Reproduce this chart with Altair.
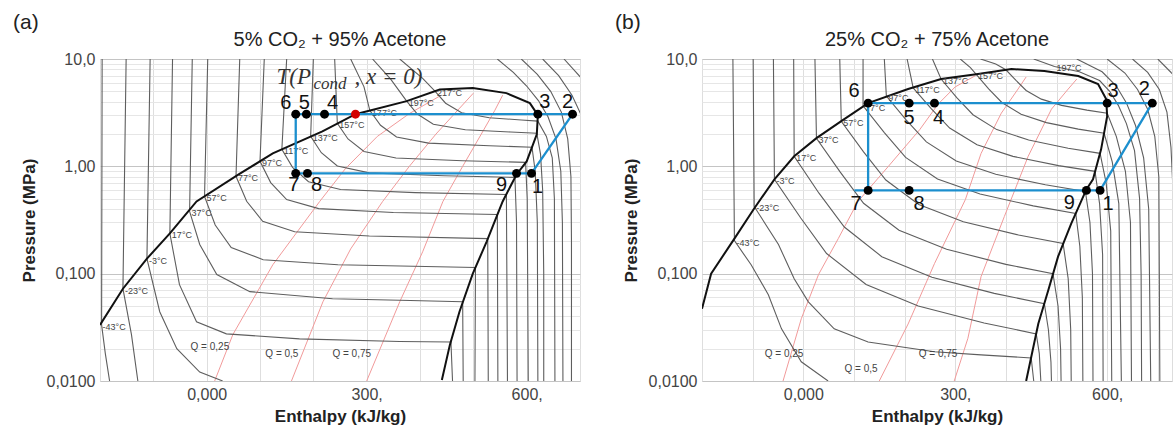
import altair as alt
import pandas as pd

FONT = "Liberation Sans"

# ---------------- shared grid / ticks ----------------
X_GRID = [-200, -100, 0, 100, 200, 300, 400, 500, 600, 700]
Y_GRID = [0.01, 0.02, 0.03, 0.04, 0.05, 0.06, 0.07, 0.08, 0.09,
          0.1, 0.2, 0.3, 0.4, 0.5, 0.6, 0.7, 0.8, 0.9,
          1, 2, 3, 4, 5, 6, 7, 8, 9, 10]

# ---------------- panel (a): 5% CO2 ----------------
A_TITLE = "5% CO₂ + 95% Acetone"
A_DOME_H = [-200, -157, -112, -69, -19, 60, 124, 217, 279, 375, 437, 499, 562, 606,
            621, 619, 600, 581, 555, 525, 499, 474, 456, 441]
A_DOME_P = [0.0333, 0.0724, 0.138, 0.237, 0.471, 0.84, 1.32, 2.12, 3.06, 4.05, 5.2, 5.36,
            4.81, 3.88, 3.0, 1.99, 1.11, 0.84, 0.471, 0.199, 0.1, 0.0442, 0.0217, 0.0102]

A_ISO_T = [-43, -23, -3, 17, 37, 57, 77, 97, 117, 137, 157, 177, 197, 217, 237, 257, 277, 297]
A_ISO_H = [
    [-196, -197, -190, -182],
    [-151, -157, -141, -129],
    [-106, -112, -88, -56, -13, 30],
    [-64, -69, -51, -19, 37, 174, 362, 458, 461],
    [-27, -32, -13, 19, 81, 236, 362, 480, 481],
    [2, -4, 16, 46, 106, 246, 504, 503],
    [62, 55, 75, 105, 165, 305, 527, 528],
    [108, 100, 120, 150, 210, 350, 545, 546],
    [150, 141, 161, 191, 251, 391, 562, 564],
    [200, 195, 215, 245, 305, 445, 578, 581, 582],
    [240, 245, 265, 295, 355, 480, 598, 601, 603],
    [270, 295, 306, 326, 356, 416, 530, 610, 616, 620, 621],
    [311, 345, 375, 395, 425, 485, 570, 619, 626, 630, 632, 632],
    [362, 405, 428, 448, 478, 530, 590, 621, 637, 648, 652, 653],
    [545, 575, 600, 622, 640, 655, 664, 667, 668],
    [590, 620, 645, 665, 677, 683, 684, 684],
    [630, 660, 685, 705],
    [670, 692, 710],
]
A_ISO_P = [
    [10, 0.0333, 0.018, 0.01],
    [10, 0.0724, 0.027, 0.01],
    [10, 0.138, 0.0442, 0.02, 0.0121, 0.01],
    [10, 0.237, 0.079, 0.0356, 0.0275, 0.0247, 0.0233, 0.0231, 0.01],
    [10, 0.38, 0.187, 0.098, 0.068, 0.0583, 0.0565, 0.0547, 0.01],
    [10, 0.525, 0.284, 0.175, 0.135, 0.121, 0.114, 0.01],
    [10, 0.807, 0.473, 0.308, 0.246, 0.224, 0.212, 0.01],
    [10, 1.114, 0.706, 0.49, 0.404, 0.372, 0.356, 0.01],
    [10, 1.442, 0.979, 0.718, 0.608, 0.569, 0.547, 0.01],
    [10, 1.905, 1.340, 1.009, 0.869, 0.817, 0.789, 0.3, 0.01],
    [10, 2.512, 1.799, 1.377, 1.194, 1.127, 1.089, 0.5, 0.01],
    [10, 5.5, 3.311, 2.415, 1.879, 1.644, 1.556, 1.507, 0.9, 0.3, 0.01],
    [10, 6.5, 4.046, 3.069, 2.466, 2.193, 2.089, 2.032, 1.3, 0.6, 0.1, 0.01],
    [10, 6.6, 5.012, 3.873, 3.155, 2.831, 2.704, 2.636, 1.9, 1.2, 0.5, 0.01],
    [10, 7.5, 5.6, 4.1, 2.9, 1.8, 0.9, 0.3, 0.01],
    [10, 7.2, 5.0, 3.2, 1.8, 0.8, 0.2, 0.01],
    [10, 7.0, 4.6, 2.8],
    [10, 7.6, 6.0],
]
A_LBL_T = [-43, -23, -3, 17, 37, 57, 77, 97, 117, 137, 157, 177, 197, 217]
A_LBL_H = [-199, -157, -112, -69, -32, -4, 55, 100, 141, 195, 245, 306, 375, 428]
A_LBL_P = [0.0333, 0.0724, 0.138, 0.237, 0.38, 0.525, 0.807, 1.114, 1.442, 1.905, 2.512,
           3.311, 4.046, 5.012]

A_Q_NAME = ["0,25", "0,5", "0,75"]
A_Q_H = [[15, 49, 124, 212, 260, 320, 380, 440],
         [159, 218, 270, 330, 380, 430, 470, 500],
         [300, 362, 405, 443, 480, 515, 540, 555]]
A_Q_P = [[0.01, 0.027, 0.121, 0.471, 0.95, 1.9, 3.1, 4.6],
         [0.01, 0.0547, 0.17, 0.471, 1.0, 2.0, 3.3, 4.8],
         [0.01, 0.0547, 0.16, 0.471, 1.0, 2.0, 3.3, 4.6]]
A_QLBL_H = [6, 141, 272]
A_QLBL_P = [0.0209, 0.0179, 0.0179]

A_PT = ["1", "2", "3", "4", "5", "6", "7", "8", "9"]
A_PT_H = [609, 686, 621, 221, 187, 167, 167, 189, 581]
A_PT_P = [0.86, 3.06, 3.06, 3.06, 3.06, 3.06, 0.86, 0.86, 0.86]
A_PATH = ["6", "5", "4", "3", "2", "1", "9", "8", "7", "6"]
A_RED_H = [279]
A_RED_P = [3.06]
A_NOTE_H = [131]
A_NOTE_P = [5.84]

# ---------------- panel (b): 25% CO2 ----------------
B_TITLE = "25% CO₂ + 75% Acetone"
B_DOME_H = [-200, -182, -136, -97, -57, -18, 26, 75, 128, 207, 272, 345, 411, 476, 543,
            582, 598, 600, 588, 572, 559, 529, 503, 484, 464, 440]
B_DOME_P = [0.047, 0.1, 0.212, 0.405, 0.756, 1.24, 1.83, 2.64, 3.88, 5.25, 6.5, 7.24, 8.07,
            7.73, 6.93, 5.84, 4.23, 2.93, 1.44, 0.756, 0.61, 0.293, 0.144, 0.0708, 0.0341, 0.01]

B_ISO_T = [-43, -23, -3, 17, 37, 57, 77, 97, 117, 137, 157, 177, 197, 217, 237, 257, 277]
B_ISO_H = [
    [-139, -136, -103, -69, -43, -4, 49],
    [-99, -97, -49, -18, 10, 61, 128, 259, 351, 450, 455],
    [-59, -57, -5, 46, 124, 227, 357, 460, 466, 469],
    [-19, -18, 31, 81, 155, 254, 377, 476, 484, 489, 490],
    [23, 26, 73, 119, 189, 283, 400, 493, 503, 508, 509],
    [72, 75, 119, 163, 228, 316, 425, 513, 523, 528, 529],
    [118, 118, 160, 202, 265, 349, 454, 538, 546, 551, 552],
    [160, 164, 203, 243, 302, 380, 478, 557, 566, 571, 572],
    [205, 217, 253, 289, 343, 414, 504, 576, 585, 591, 592],
    [255, 272, 303, 335, 382, 445, 523, 586, 598, 607, 609],
    [310, 330, 341, 366, 392, 430, 480, 543, 594, 610, 623, 628],
    [350, 380, 400, 420, 440, 470, 510, 560, 600, 618, 636, 646, 648],
    [455, 496, 545, 585, 605, 622, 638, 654, 664, 667, 668],
    [540, 590, 618, 638, 656, 672, 682, 686],
    [600, 635, 660, 680, 694, 702, 704],
    [650, 680, 703, 718, 726, 730],
    [700, 735],
]
B_ISO_P = [
    [10, 0.203, 0.121, 0.0637, 0.0306, 0.0151, 0.01],
    [10, 0.423, 0.187, 0.0897, 0.0547, 0.0306, 0.0231, 0.0187, 0.0175, 0.0164, 0.01],
    [10, 0.757, 0.330, 0.154, 0.0794, 0.0499, 0.0347, 0.0275, 0.018, 0.01],
    [10, 1.239, 0.562, 0.272, 0.144, 0.0927, 0.0655, 0.0525, 0.03, 0.015, 0.01],
    [10, 1.828, 0.883, 0.453, 0.254, 0.169, 0.122, 0.1, 0.05, 0.02, 0.01],
    [10, 2.63, 1.365, 0.746, 0.442, 0.305, 0.229, 0.191, 0.09, 0.03, 0.01],
    [10, 3.67, 2.061, 1.211, 0.762, 0.552, 0.428, 0.364, 0.18, 0.06, 0.01],
    [10, 4.51, 2.704, 1.690, 1.122, 0.843, 0.673, 0.583, 0.3, 0.1, 0.01],
    [10, 5.37, 3.436, 2.275, 1.592, 1.239, 1.016, 0.898, 0.45, 0.15, 0.01],
    [10, 6.5, 4.365, 3.027, 2.198, 1.762, 1.476, 1.321, 0.7, 0.25, 0.01],
    [10, 8.3, 7.24, 5.272, 3.936, 3.055, 2.553, 2.223, 2.032, 1.1, 0.45, 0.01],
    [10, 9.0, 7.93, 6.324, 5.093, 4.227, 3.698, 3.342, 3.126, 1.9, 0.9, 0.3, 0.01],
    [10, 8.5, 7.6, 6.3, 5.0, 3.7, 2.5, 1.4, 0.5, 0.1, 0.01],
    [10, 7.6, 5.6, 3.9, 2.4, 1.2, 0.4, 0.01],
    [10, 7.4, 5.2, 3.4, 1.9, 0.8, 0.01],
    [10, 7.5, 5.2, 3.2, 1.5, 0.6],
    [10, 6.8],
]
B_LBL_T = [-43, -23, -3, 17, 37, 57, 77, 97, 117, 137, 157, 197]
B_LBL_H = [-136, -97, -57, -18, 26, 75, 118, 164, 217, 272, 341, 496]
B_LBL_P = [0.203, 0.423, 0.757, 1.239, 1.828, 2.63, 3.67, 4.51, 5.37, 6.5, 7.24, 8.6]

B_Q_NAME = ["0,25", "0,5", "0,75"]
B_Q_H = [[-40, -4, 30, 69, 108, 168, 230, 266, 300, 340],
         [150, 207, 259, 320, 351, 391, 424, 440],
         [298, 325, 351, 397, 444, 490, 523, 540]]
B_Q_P = [[0.01, 0.038, 0.098, 0.212, 0.471, 1.0, 2.2, 3.79, 5.5, 7.0],
         [0.01, 0.034, 0.124, 0.49, 1.32, 3.13, 5.25, 6.8],
         [0.01, 0.025, 0.094, 0.341, 1.24, 3.41, 5.25, 6.5]]
B_QLBL_H = [-38, 114, 266]
B_QLBL_P = [0.0179, 0.0129, 0.0179]

B_PT = ["1", "2", "3", "4", "5", "6", "7", "8", "9", "s"]
B_PT_H = [586, 689, 600, 259, 209, 128, 128, 209, 559, 101]
B_PT_P = [0.597, 3.88, 3.88, 3.88, 3.88, 3.88, 0.597, 0.597, 0.597, 0.597]
B_PATH = ["s", "7", "6", "5", "4", "3", "2", "1", "9", "8", "7"]

# ---------------- styles (pixel offsets of the point numbers) ----------------
A_OFF = {"1": (6, 14), "2": (-5, -12), "3": (7, -12), "4": (8, -11), "5": (-2, -11),
         "6": (-10, -11), "7": (-2, 12), "8": (9, 12), "9": (-15, 12)}
B_OFF = {"1": (8, 14), "2": (-8, -14), "3": (6, -12), "4": (4, 15), "5": (0, 15),
         "6": (-14, -12), "7": (-12, 14), "8": (10, 14), "9": (-17, 13)}

BLUE = "#1c8fce"


def lines_df(keys, hs, ps):
    rows = []
    for k, H, P in zip(keys, hs, ps):
        for i, (h, p) in enumerate(zip(H, P)):
            rows.append({"k": str(k), "h": h, "p": p, "i": i})
    return pd.DataFrame(rows)


def panel(tag, title, xmax, width, dome_h, dome_p, iso_t, iso_h, iso_p,
          lbl_t, lbl_h, lbl_p, q_name, q_h, q_p, ql_h, ql_p,
          pt, pt_h, pt_p, path, offs, red=None, note=None):
    xs = alt.Scale(domain=[-200, xmax], nice=False, zero=False)
    ys = alt.Scale(type="log", domain=[0.01, 10], nice=False)
    xaxis = alt.Axis(
        values=X_GRID,
        labelExpr="datum.value == 0 ? '0,000' : datum.value == 300 ? '300,' : datum.value == 600 ? '600,' : ''",
        title="Enthalpy (kJ/kg)", grid=True, gridColor="#dedede", ticks=False, domain=False,
        labelFontSize=16, labelColor="#444", labelPadding=5, labelFont=FONT, labelOverlap=False,
        labelFlush=False,
        titleFontSize=17, titleFontWeight="bold", titleColor="#222", titlePadding=6, titleFont=FONT)
    yaxis = alt.Axis(
        values=Y_GRID,
        labelExpr=("abs(datum.value-10)<1e-6 ? '10,0' : abs(datum.value-1)<1e-7 ? '1,00' : "
                   "abs(datum.value-0.1)<1e-8 ? '0,100' : abs(datum.value-0.01)<1e-9 ? '0,0100' : ''"),
        title="Pressure (MPa)", grid=True,
        gridColor={"condition": {"test": "abs(log(datum.value)/LN10 - round(log(datum.value)/LN10)) < 0.01",
                                 "value": "#c4c4c4"}, "value": "#e6e6e6"},
        ticks=False, domain=False, labelFontSize=16, labelColor="#444", labelPadding=5,
        labelFont=FONT, labelOverlap=False,
        titleFontSize=17, titleFontWeight="bold", titleColor="#222", titlePadding=8, titleFont=FONT)

    def X():
        return alt.X("h:Q", scale=xs, axis=xaxis)

    def Y():
        return alt.Y("p:Q", scale=ys, axis=yaxis)

    layers = []
    qdf = lines_df(q_name, q_h, q_p)
    layers.append(alt.Chart(qdf).mark_line(color="#f19a9a", strokeWidth=1, clip=True).encode(
        x=X(), y=Y(), detail="k:N", order="i:Q"))
    idf = lines_df(iso_t, iso_h, iso_p)
    layers.append(alt.Chart(idf).mark_line(color="#5e5e5e", strokeWidth=1.1, clip=True).encode(
        x=X(), y=Y(), detail="k:N", order="i:Q"))
    ddf = pd.DataFrame({"h": dome_h, "p": dome_p, "i": range(len(dome_h))})
    layers.append(alt.Chart(ddf).mark_line(color="#111", strokeWidth=2, clip=True).encode(
        x=X(), y=Y(), order="i:Q"))
    ldf = pd.DataFrame({"h": lbl_h, "p": lbl_p, "t": [f"{t}°C" for t in lbl_t]})
    layers.append(alt.Chart(ldf).mark_text(fontSize=9, dx=2, dy=2, align="left", baseline="middle",
                                           color="#444", font=FONT).encode(x=X(), y=Y(), text="t:N"))
    qldf = pd.DataFrame({"h": ql_h, "p": ql_p, "t": [f"Q = {q}" for q in q_name]})
    layers.append(alt.Chart(qldf).mark_text(fontSize=10, align="center", baseline="middle",
                                            color="#444", font=FONT).encode(x=X(), y=Y(), text="t:N"))
    lookup = {n: (h, p) for n, h, p in zip(pt, pt_h, pt_p)}
    cdf = pd.DataFrame({"h": [lookup[n][0] for n in path], "p": [lookup[n][1] for n in path],
                        "i": range(len(path))})
    layers.append(alt.Chart(cdf).mark_line(color=BLUE, strokeWidth=2.3).encode(x=X(), y=Y(), order="i:Q"))
    pdf = pd.DataFrame({"h": pt_h, "p": pt_p, "n": pt})
    pdf = pdf[pdf["n"] != "s"]
    layers.append(alt.Chart(pdf).mark_circle(size=80, color="black", opacity=1).encode(x=X(), y=Y()))
    if red is not None:
        rdf = pd.DataFrame({"h": red[0], "p": red[1]})
        layers.append(alt.Chart(rdf).mark_circle(size=80, color="#d40000", opacity=1).encode(x=X(), y=Y()))
    for n in pdf["n"]:
        dx, dy = offs[n]
        one = pdf[pdf["n"] == n]
        layers.append(alt.Chart(one).mark_text(fontSize=20, dx=dx, dy=dy, align="center", baseline="middle",
                                               color="#111", font=FONT).encode(x=X(), y=Y(), text="n:N"))
    if note is not None:
        ndf = pd.DataFrame({"h": note[0], "p": note[1]})
        serif = "Liberation Serif"
        layers.append(alt.Chart(ndf).mark_text(fontSize=23, font=serif, fontStyle="italic", align="left",
                                               baseline="alphabetic", color="#333").encode(
            x=X(), y=Y(), text=alt.value("T(P")))
        layers.append(alt.Chart(ndf).mark_text(fontSize=17, font=serif, fontStyle="italic", align="left",
                                               baseline="alphabetic", color="#333", dx=37, dy=5).encode(
            x=X(), y=Y(), text=alt.value("cond")))
        layers.append(alt.Chart(ndf).mark_text(fontSize=23, font=serif, fontStyle="italic", align="left",
                                               baseline="alphabetic", color="#333", dx=78).encode(
            x=X(), y=Y(), text=alt.value(", x = 0)")))
    one_row = pd.DataFrame({"a": [0]})
    layers.append(alt.Chart(one_row).mark_text(fontSize=20, align="center", baseline="alphabetic",
                                               color="#222", font=FONT).encode(
        x=alt.value(width / 2), y=alt.value(-13), text=alt.value(title)))
    layers.append(alt.Chart(one_row).mark_text(fontSize=21, align="left", baseline="alphabetic",
                                               color="#222", font=FONT).encode(
        x=alt.value(-87), y=alt.value(-30), text=alt.value(tag)))
    return alt.layer(*layers).properties(width=width, height=322)


a = panel("(a)", A_TITLE, 700, 480, A_DOME_H, A_DOME_P, A_ISO_T, A_ISO_H, A_ISO_P,
          A_LBL_T, A_LBL_H, A_LBL_P, A_Q_NAME, A_Q_H, A_Q_P, A_QLBL_H, A_QLBL_P,
          A_PT, A_PT_H, A_PT_P, A_PATH, A_OFF, red=(A_RED_H, A_RED_P), note=(A_NOTE_H, A_NOTE_P))
b = panel("(b)", B_TITLE, 728, 470, B_DOME_H, B_DOME_P, B_ISO_T, B_ISO_H, B_ISO_P,
          B_LBL_T, B_LBL_H, B_LBL_P, B_Q_NAME, B_Q_H, B_Q_P, B_QLBL_H, B_QLBL_P,
          B_PT, B_PT_H, B_PT_P, B_PATH, B_OFF)

chart = alt.hconcat(a, b, spacing=122, bounds="flush").properties(
    padding={"left": 12, "top": 11, "right": 2, "bottom": 2}
).configure_view(stroke="#c8c8c8", strokeWidth=1).configure(font=FONT, background="white")

chart.save("out.html", embed_options={"renderer": "svg", "actions": False})
